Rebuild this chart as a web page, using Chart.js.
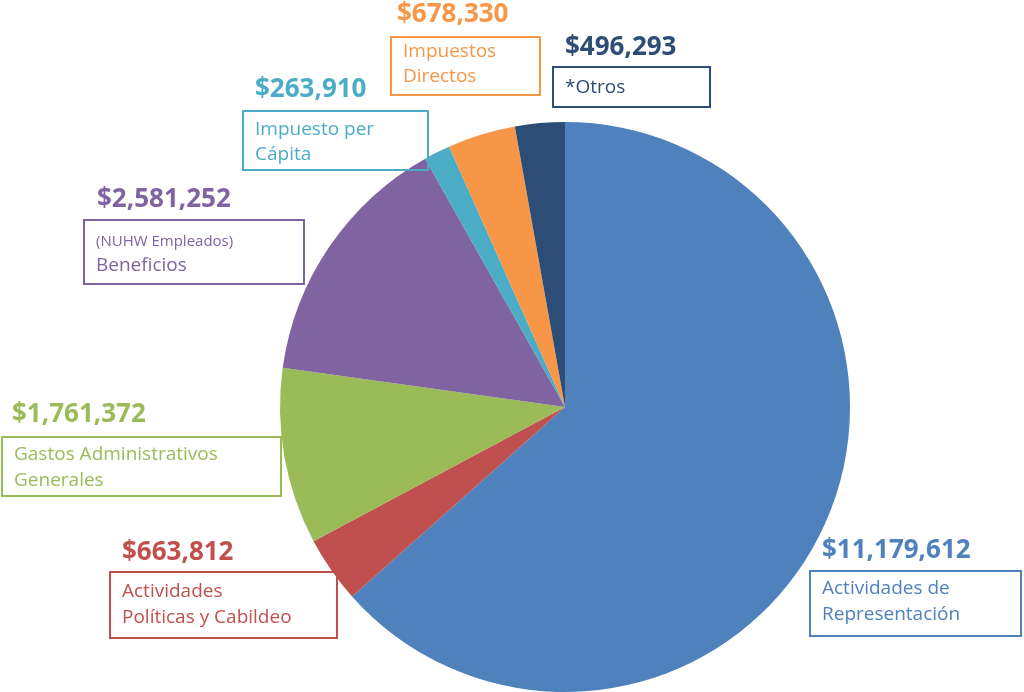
<!DOCTYPE html>
<html><head><meta charset="utf-8">
<script src="https://cdn.jsdelivr.net/npm/chart.js@4/dist/chart.umd.min.js"></script>
<style>html,body{margin:0;padding:0;background:#fff}#c{display:block}</style>
</head><body>
<div style="width:1024px;height:692px"><canvas id="c"></canvas></div>
<script>
const categories = ['Actividades de Representación', 'Actividades Políticas y Cabildeo', 'Gastos Administrativos Generales', '(NUHW Empleados) Beneficios', 'Impuesto per Cápita', 'Impuestos Directos', '*Otros'];
const amounts = [11179612, 663812, 1761372, 2581252, 263910, 678330, 496293];
const colors = ['#4f81bd', '#c0504d', '#9bbb59', '#8064a2', '#4bacc6', '#f79646', '#2c4d75'];

// label boxes: [valueX, valueY, boxX, boxY, boxW, boxH, lines]
const boxes = [
  [822, 551, 810, 571, 211, 65, [['Actividades de', 589, 19], ['Representación', 615, 19]]],
  [122, 553, 110, 572, 227, 66, [['Actividades', 592, 19], ['Políticas y Cabildeo', 618, 19]]],
  [12, 415, 2, 437, 279, 59, [['Gastos Administrativos', 455, 19], ['Generales', 481, 19]]],
  [97, 200, 84, 220, 220, 64, [['(NUHW Empleados)', 242, 15], ['Beneficios', 266, 19]]],
  [255, 90, 243, 111, 185, 59, [['Impuesto per', 130, 19], ['Cápita', 155, 19]]],
  [397, 15, 391, 37, 149, 58, [['Impuestos', 52, 19], ['Directos', 77, 19]]],
  [565, 48, 553, 67, 157, 40, [['*Otros', 88, 19]]]
];

const labelPlugin = {
  id: 'labels',
  afterDraw(chart) {
    const ctx = chart.ctx;
    ctx.save();
    ctx.textBaseline = 'middle';
    boxes.forEach((b, i) => {
      const c = colors[i];
      ctx.fillStyle = c;
      ctx.font = 'bold 26px "Open Sans", sans-serif';
      ctx.fillText('$' + amounts[i].toLocaleString('en-US'), b[0], b[1]);
      ctx.strokeStyle = c;
      ctx.lineWidth = 2;
      ctx.strokeRect(b[2], b[3], b[4], b[5]);
      b[6].forEach(l => {
        ctx.font = l[2] + 'px "Open Sans", sans-serif';
        ctx.fillText(l[0], b[2] + 12, l[1]);
      });
    });
    ctx.restore();
  }
};

new Chart(document.getElementById('c'), {
  type: 'pie',
  data: {
    labels: categories,
    datasets: [{ data: amounts, backgroundColor: colors, borderWidth: 0 }]
  },
  options: {
    responsive: true,
    maintainAspectRatio: false,
    animation: false,
    layout: { padding: { left: 280, right: 174, top: 122, bottom: 0 } },
    plugins: { legend: { display: false }, tooltip: { enabled: false } }
  },
  plugins: [labelPlugin]
});
</script>
</body></html>
